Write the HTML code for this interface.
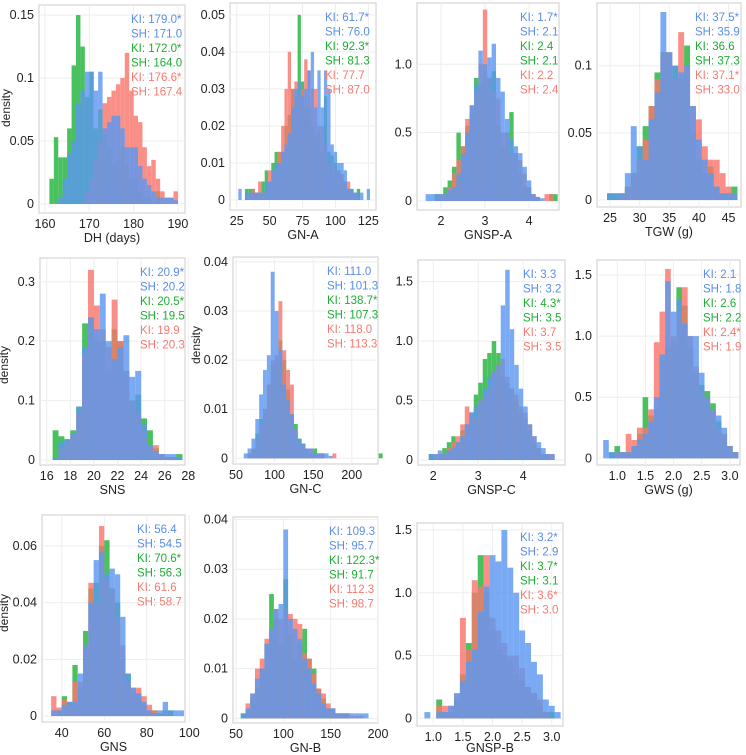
<!DOCTYPE html>
<html><head><meta charset="utf-8"><style>
html,body{margin:0;padding:0;background:#fff;}
svg{display:block;font-family:"Liberation Sans",sans-serif;}
</style></head><body>
<svg id="fig" width="746" height="755" viewBox="0 0 746 755"></svg>
<script>
// ---- data (densities per bin) ----
const dhGreen=[.02,.053,.037,.037,.06,.11,.15,.125,.085,.105,.06,.075,.055,.045,.032,.035,.045,.03,.02,.02,.01,.005,.005,0,.01,0,0,0,0];
const dhBlue=[0,0,.005,.02,.04,.05,.08,.09,.105,.105,.09,.105,.06,.065,.07,.07,.06,.045,.045,.045,.03,.02,.015,.01,.005,.005,.005,.005,.003];
const dhRed=[0,0,0,0,0,0,0,0,.01,.02,.035,.05,.08,.085,.09,.095,.1,.12,.09,.07,.065,.045,.03,.035,.02,.01,.005,.005,.01];
const gnaBlue=[.003,0,.002,.002,.002,.002,.002,.002,.005,.005,.008,.01,.01,.013,.015,.018,.025,.03,.032,.028,.03,.035,.04,.025,.035,.025,.035,.03,.015,.013,.01,.01,.008,.003,.003,.002,.002,.002,0,.003];
const gnaGreen=[0,0,.003,.003,.003,.002,.002,.005,.008,.005,.01,.013,.013,.013,.02,.023,.03,.028,.05,.032,.025,.025,.02,.017,.018,.013,.028,.013,.012,.01,.008,.007,.005,.003,.003,.002,.003,0,0,0];
const gnaRed=[0,0,0,.002,.003,.002,.005,.002,.002,.008,.008,.008,.013,.02,.03,.04,.03,.032,.028,.03,.038,.035,.03,.03,.02,.02,.015,.01,.01,.008,.008,.007,.005,.005,.002,.002,0,0,0,0];
const gnspaBlue=[.05,.05,.05,.05,.05,.08,.1,.2,.35,.5,.7,.85,1.1,1.0,1.05,1.15,.9,.8,.6,.45,.4,.35,.25,.15,.05,.03,.02,0,0,0];
const gnspaGreen=[0,0,.05,.05,.1,.15,.25,.5,.4,.55,.65,.9,.85,.95,.9,.95,.55,.4,.5,.65,.35,.2,.1,.1,.05,.02,0,0,.05,.05];
const gnspaRed=[0,0,.02,.05,.05,.1,.2,.3,.4,.6,.7,.8,1.0,1.4,.9,.8,.75,.5,.5,.35,.35,.3,.2,.1,.05,.03,0,.05,.05,0];
const tgwBlue=[.005,.005,.005,.02,.055,.04,.03,.06,.08,.14,.11,.1,.095,.1,.07,.045,.03,.02,.01,.005,.005,.005];
const tgwGreen=[.005,.005,.005,.01,.02,.04,.055,.07,.095,.11,.11,.1,.09,.115,.05,.03,.02,.025,.01,.005,.005,.01];
const tgwRed=[0,0,.005,.01,.02,.03,.045,.07,.09,.11,.11,.09,.125,.1,.07,.06,.04,.03,.03,.02,.01,.005];
const snsBlue=[.005,.03,.035,.045,.09,.19,.24,.22,.28,.2,.17,.19,.21,.14,.15,.06,.025,.015,.01,.01,.01,.005];
const snsGreen=[.05,.04,.035,.05,.09,.23,.24,.2,.2,.15,.22,.2,.15,.1,.11,.07,.05,.02,.01,.005,.005,.01];
const snsRed=[0,.02,.03,.04,.08,.18,.32,.26,.22,.19,.27,.2,.15,.1,.08,.05,.025,.025,.01,.005,.005,0];
const gncBlue=[.001,.002,.004,.008,.013,.018,.021,.038,.03,.022,.015,.012,.009,.006,.004,.003,.002,.002,.001,.001,.001,.001,.0005,0,0,0,0,0,0,0,0,0,0,0,0,0];
const gncGreen=[0,.001,.002,.005,.008,.01,.015,.019,.02,.024,.02,.014,.009,.007,.004,.003,.002,.001,.002,.001,.001,0,0,0,0,0,0,0,0,0,0,0,0,0,0,.001];
const gncRed=[0,.001,.002,.004,.007,.01,.015,.02,.021,.032,.022,.018,.015,.006,.003,.003,.002,.002,.001,.001,.001,0,0,.001,0,0,0,0,0,0,0,0,0,0,0,0];
const gnspcBlue=[.05,.05,.08,.05,.08,.1,.15,.2,.3,.4,.45,.5,.6,.7,.75,.8,1.3,1.6,1.1,.8,.6,.45,.3,.2,.15,.1,.05,.05];
const gnspcGreen=[.05,.02,.05,.1,.15,.2,.15,.25,.3,.4,.55,.65,.85,.9,1.0,.9,.7,.65,.6,.5,.4,.35,.25,.15,.1,.05,.05,0];
const gnspcRed=[0,.05,.05,.05,.1,.15,.2,.3,.45,.4,.35,.5,.55,.6,.75,.8,.85,.7,.6,.55,.45,.4,.3,.2,.1,.05,.05,.05];
const gwsBlue=[.15,.05,.05,.05,.05,.1,.15,.2,.3,.5,.85,1.45,1.2,1.3,1.1,1.0,1.0,.7,.5,.4,.35,.25,.1,.05];
const gwsGreen=[0,.05,.1,.05,.05,.1,.2,.5,.35,.4,.8,.9,.95,1.4,1.25,.9,.7,.6,.55,.45,.3,.2,.1,.05];
const gwsRed=[0,0,.05,.05,.2,.15,.25,.25,.4,.95,1.2,1.55,1.0,1.2,1.4,1.0,.75,.55,.5,.4,.25,.2,.1,.05];
const gnsBlue=[.002,.002,.004,.005,.005,.015,.025,.04,.055,.058,.05,.052,.05,.035,.015,.01,.008,.005,.002,.001,.002,.005,.002,.002,.002];
const gnsGreen=[0,.002,.007,.005,.018,.01,.03,.045,.047,.06,.062,.045,.04,.02,.015,.008,.008,.004,.002,.002,.001,.002,.002,0,0];
const gnsRed=[.007,.003,.006,.004,.012,.012,.025,.047,.04,.067,.048,.045,.035,.025,.012,.01,.01,.007,.004,.002,0,.002,0,0,0];
const gnbBlue=[.001,.002,.005,.008,.01,.015,.018,.022,.023,.038,.02,.018,.016,.012,.01,.007,.005,.003,.002,.002,.001,.001,.001,.001,.001,.001,.001];
const gnbGreen=[.001,.002,.004,.006,.01,.015,.025,.02,.015,.028,.017,.012,.015,.018,.012,.01,.006,.004,.002,.002,.001,.001,.001,0,0,0,0];
const gnbRed=[0,.003,.005,.01,.012,.016,.018,.022,.02,.022,.021,.02,.019,.013,.012,.009,.006,.005,.003,.002,.001,.001,.001,.0005,.0005,.0005,0];
const gnspbBlue=[.05,0,.05,.05,.1,.2,.3,.45,.55,.85,1.05,1.3,1.25,1.5,1.2,1.0,.7,.6,.45,.35,.15,.1,.05];
const gnspbGreen=[0,0,.15,.05,.05,.15,.35,.6,1.0,1.3,1.0,.7,.55,.5,.45,.35,.3,.25,.2,.1,.05,.05,0];
const gnspbRed=[0,0,.1,.1,.1,.2,.8,.55,1.1,1.05,1.3,.8,.7,.6,.5,.5,.4,.25,.2,.15,.05,0,0];

const statsDH=["KI: 179.0*","SH: 171.0","KI: 172.0*","SH: 164.0","KI: 176.6*","SH: 167.4"];
const statsGNA=["KI: 61.7*","SH: 76.0","KI: 92.3*","SH: 81.3","KI: 77.7","SH: 87.0"];
const statsGNSPA=["KI: 1.7*","SH: 2.1","KI: 2.4","SH: 2.1","KI: 2.2","SH: 2.4"];
const statsTGW=["KI: 37.5*","SH: 35.9","KI: 36.6","SH: 37.3","KI: 37.1*","SH: 33.0"];
const statsSNS=["KI: 20.9*","SH: 20.2","KI: 20.5*","SH: 19.5","KI: 19.9","SH: 20.3"];
const statsGNC=["KI: 111.0","SH: 101.3","KI: 138.7*","SH: 107.3","KI: 118.0","SH: 113.3"];
const statsGNSPC=["KI: 3.3","SH: 3.2","KI: 4.3*","SH: 3.5","KI: 3.7","SH: 3.5"];
const statsGWS=["KI: 2.1","SH: 1.8","KI: 2.6","SH: 2.2","KI: 2.4*","SH: 1.9"];
const statsGNS=["KI: 56.4","SH: 54.5","KI: 70.6*","SH: 56.3","KI: 61.6","SH: 58.7"];
const statsGNB=["KI: 109.3","SH: 95.7","KI: 122.3*","SH: 91.7","KI: 112.3","SH: 98.7"];
const statsGNSPB=["KI: 3.2*","SH: 2.9","KI: 3.7*","SH: 3.1","KI: 3.6*","SH: 3.0"];

const panels=[
 {id:"dh",title:"DH (days)",box:[39,5,185,213],xd:[158.65,191.6],yd:[-0.0072,0.158],b0:161,bw:1,g:dhGreen,r:dhRed,bl:dhBlue,xt:[160,170,180,190],yt:[0,0.05,0.1,0.15],yl:["0","0.05","0.1","0.15"],st:statsDH,sx:131,dens:[10,108]},
 {id:"gn-a",title:"GN-A",box:[230,3,376,210],xd:[19.9,130.8],yd:[-0.0027,0.0532],b0:26.25,bw:2.5,g:gnaGreen,r:gnaRed,bl:gnaBlue,xt:[25,50,75,100,125],yt:[0,0.01,0.02,0.03,0.04,0.05],yl:["0","0.01","0.02","0.03","0.04","0.05"],st:statsGNA,sx:325},
 {id:"gnsp-a",title:"GNSP-A",box:[417,3,559,210],xd:[1.455,4.68],yd:[-0.066,1.448],b0:1.65,bw:0.1,g:gnspaGreen,r:gnspaRed,bl:gnspaBlue,xt:[2,3,4],yt:[0,0.5,1.0],yl:["0","0.5","1.0"],st:statsGNSPA,sx:520},
 {id:"tgw",title:"TGW (g)",box:[597,3,741,207],xd:[22.8,47.1],yd:[-0.0052,0.1467],b0:24.5,bw:1,g:tgwGreen,r:tgwRed,bl:tgwBlue,xt:[25,30,35,40,45],yt:[0,0.05,0.1],yl:["0","0.05","0.1"],st:statsTGW,sx:695},
 {id:"sns",title:"SNS",box:[40,258,185,465],xd:[15.43,27.72],yd:[-0.0084,0.34],b0:16.5,bw:0.5,g:snsGreen,r:snsRed,bl:snsBlue,xt:[16,18,20,22,24,26,28],yt:[0,0.1,0.2,0.3],yl:["0","0.1","0.2","0.3"],st:statsSNS,sx:140,dens:[8,365]},
 {id:"gn-c",title:"GN-C",box:[233,257,378,464],xd:[46.1,234],yd:[-0.00116,0.041],b0:60,bw:5,g:gncGreen,r:gncRed,bl:gncBlue,xt:[50,100,150,200],yt:[0,0.01,0.02,0.03,0.04],yl:["0","0.01","0.02","0.03","0.04"],st:statsGNC,sx:327,dens:[200,345]},
 {id:"gnsp-c",title:"GNSP-C",box:[418,260,565,465],xd:[1.66,4.93],yd:[-0.042,1.682],b0:1.9,bw:0.1,g:gnspcGreen,r:gnspcRed,bl:gnspcBlue,xt:[2,3,4],yt:[0,0.5,1.0,1.5],yl:["0","0.5","1.0","1.5"],st:statsGNSPC,sx:523},
 {id:"gws",title:"GWS (g)",box:[597,260,740,465],xd:[0.64,3.18],yd:[-0.055,1.623],b0:0.75,bw:0.1,g:gwsGreen,r:gwsRed,bl:gwsBlue,xt:[1.0,1.5,2.0,2.5,3.0],yt:[0,0.5,1.0,1.5],yl:["0","0.5","1.0","1.5"],st:statsGWS,sx:703},
 {id:"gns",title:"GNS",box:[42,515,185,722],xd:[30.7,98],yd:[-0.0021,0.0709],b0:35,bw:2.5,g:gnsGreen,r:gnsRed,bl:gnsBlue,xt:[40,60,80,100],yt:[0,0.02,0.04,0.06],yl:["0","0.02","0.04","0.06"],st:statsGNS,sx:137,dens:[8,613]},
 {id:"gn-b",title:"GN-B",box:[233,517,378,723],xd:[46.8,200],yd:[-0.00094,0.0405],b0:55,bw:5,g:gnbGreen,r:gnbRed,bl:gnbBlue,xt:[50,100,150,200],yt:[0,0.01,0.02,0.03,0.04],yl:["0","0.01","0.02","0.03","0.04"],st:statsGNB,sx:329},
 {id:"gnsp-b",title:"GNSP-B",box:[417,523,563,726],xd:[0.725,3.19],yd:[-0.061,1.556],b0:0.85,bw:0.1,g:gnspbGreen,r:gnspbRed,bl:gnspbBlue,xt:[1.0,1.5,2.0,2.5,3.0],yt:[0,0.5,1.0,1.5],yl:["0","0.5","1.0","1.5"],st:statsGNSPB,sx:520}
];

const NS="http://www.w3.org/2000/svg";
const svg=document.getElementById("fig");
const COL={g:"#22b33c",r:"#f8766d",b:"#5b97f0"};
const TXT=["#5b8ee6","#5b8ee6","#1fae35","#1fae35","#f57a70","#f57a70"];
function mk(tag,attrs,parent){const e=document.createElementNS(NS,tag);for(const k in attrs)e.setAttribute(k,attrs[k]);(parent||svg).appendChild(e);return e;}

panels.forEach(p=>{
  const [x0,y0,x1,y1]=p.box;
  const sx=v=>x0+(v-p.xd[0])/(p.xd[1]-p.xd[0])*(x1-x0);
  const sy=v=>y1-(v-p.yd[0])/(p.yd[1]-p.yd[0])*(y1-y0);
  const g=mk("g",{});
  
  
  const bg=mk("rect",{x:x0,y:y0,width:x1-x0,height:y1-y0,fill:"#fff",stroke:"#d4d4d4","stroke-width":1.2},g);
  
  
  p.xt.forEach(t=>{const l=mk("line",{x1:sx(t),x2:sx(t),y1:y0,y2:y1,stroke:"#eeeeee"},g);});
  p.yt.forEach(t=>{const l=mk("line",{x1:x0,x2:x1,y1:sy(t),y2:sy(t),stroke:"#eeeeee"},g);});
  [["g",p.g],["r",p.r],["b",p.bl]].forEach(([c,arr])=>{
    arr.forEach((v,i)=>{
      if(v<=0)return;
      const a=p.b0+i*p.bw;
      const r=mk("rect",{x:sx(a),y:sy(v),width:Math.max(0.5,sx(a+p.bw)-sx(a)),height:sy(0)-sy(v),fill:COL[c],"fill-opacity":0.82},g);
      
      
    });
  });
  p.xt.forEach(t=>{
    if(sx(t)>x1+8)return;
    const e=mk("text",{x:sx(t),y:y1+15,"text-anchor":"middle","font-size":12.5,fill:"#222"},g);
    e.textContent=String(t%1===0&&p.xt.some(v=>v%1!==0)?t.toFixed(1):t);
    
    
  });
  p.yt.forEach((t,i)=>{
    const e=mk("text",{x:x0-5,y:sy(t)+4,"text-anchor":"end","font-size":12.5,fill:"#222"},g);
    e.textContent=p.yl[i];
    
    
  });
  const xtitle=mk("text",{x:(x0+x1)/2,y:Math.min(y1+29,752),"text-anchor":"middle","font-size":12.5,fill:"#222"},g);
  xtitle.textContent=p.title;
  
  
  if(p.dens){
    const d=mk("text",{x:p.dens[0],y:p.dens[1],"text-anchor":"middle","font-size":12,fill:"#222",transform:`rotate(-90 ${p.dens[0]} ${p.dens[1]})`},g);
    d.textContent="density";
    
    
  }
  p.st.forEach((s,i)=>{
    const e=mk("text",{x:p.sx,y:y0+18+i*14.5,"font-size":11.5,fill:TXT[i]},g);
    e.textContent=s;
    
    
  });
});
</script>
</body></html>
